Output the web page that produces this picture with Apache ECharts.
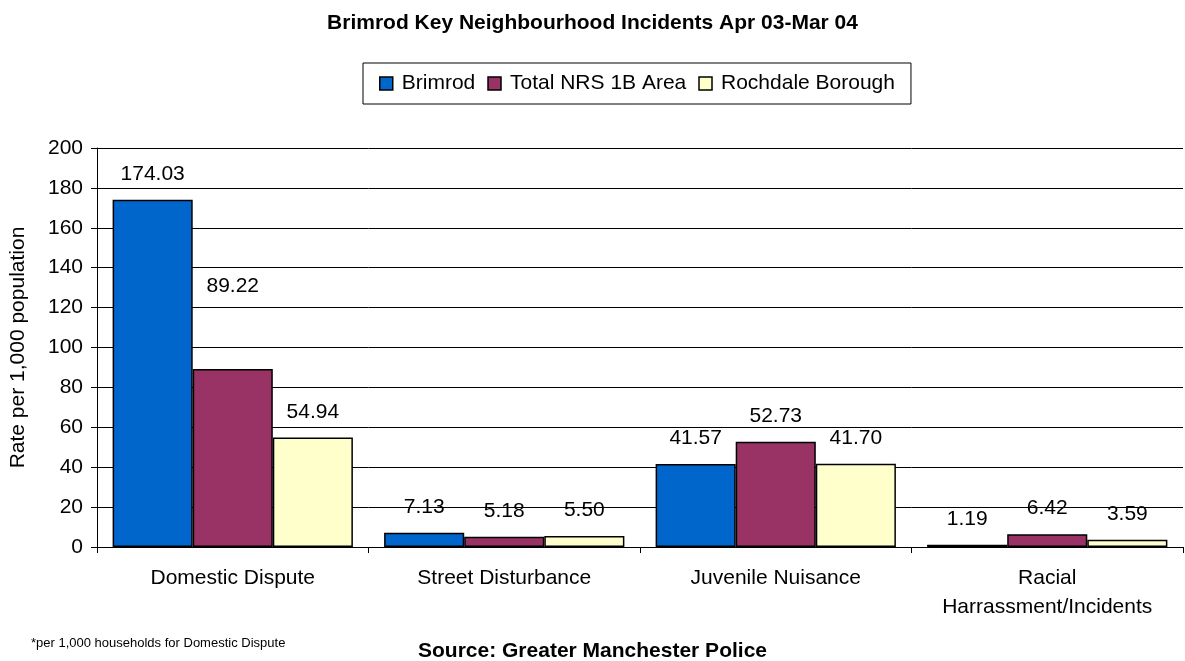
<!DOCTYPE html>
<html>
<head>
<meta charset="utf-8">
<script src="https://cdn.jsdelivr.net/npm/echarts@6/dist/echarts.min.js"></script>
<style>html,body{margin:0;padding:0;background:#fff}#c{width:1185px;height:661px}</style>
</head>
<body>
<div id="c"></div>
<script>
const categories = ['Domestic Dispute', 'Street Disturbance', 'Juvenile Nuisance', 'Racial\nHarrassment/Incidents'];
const seriesNames = ['Brimrod', 'Total NRS 1B Area', 'Rochdale Borough'];
const brimrod = [174.03, 7.13, 41.57, 1.19];
const totalNRS = [89.22, 5.18, 52.73, 6.42];
const rochdale = [54.94, 5.50, 41.70, 3.59];
const yTicks = [0, 20, 40, 60, 80, 100, 120, 140, 160, 180, 200];

const colors = ['#0066CC', '#993366', '#FFFFCC'];
const font = 'Liberation Sans, Arial, sans-serif';
const FS = 21;
// manual label lift for one label (as in the original)
const labelLift = { '1-0': -57 };

function mk(name, vals, si) {
  return {
    name: name, type: 'bar', barGap: '0%', barCategoryGap: '11.5%',
    itemStyle: { color: colors[si], borderColor: '#000', borderWidth: 1.5 },
    label: { show: true, position: 'top', distance: 15, fontSize: FS, color: '#000', fontFamily: font,
      formatter: p => p.value.toFixed(2) },
    data: vals.map((v, i) => {
      const k = si + '-' + i;
      return labelLift[k] ? { value: v, label: { offset: [0, labelLift[k]] } } : v;
    })
  };
}

const chart = echarts.init(document.getElementById('c'));
chart.setOption({
  animation: false,
  textStyle: { fontFamily: font },
  title: [
    { text: 'Brimrod Key Neighbourhood Incidents Apr 03-Mar 04', left: 'center', top: 8,
      textStyle: { fontSize: 21, fontWeight: 'bold', color: '#000', fontFamily: font } },
    { text: 'Source: Greater Manchester Police', left: 'center', top: 636,
      textStyle: { fontSize: 21, fontWeight: 'bold', color: '#000', fontFamily: font } },
    { text: '*per 1,000 households for Domestic Dispute', left: 26, top: 632,
      textStyle: { fontSize: 13, fontWeight: 'normal', color: '#000', fontFamily: font } }
  ],
  legend: {
    data: seriesNames, left: 363, top: 63, orient: 'horizontal',
    borderColor: '#000', borderWidth: 1, padding: [10, 16, 10, 16], itemGap: 12,
    itemWidth: 13, itemHeight: 13, icon: 'rect',
    itemStyle: { borderColor: '#000', borderWidth: 1.5 },
    textStyle: { fontSize: FS, color: '#000', fontFamily: font, padding: [0, 0, 0, 4] }
  },
  grid: { left: 97, right: 2, top: 148, bottom: 114, containLabel: false },
  xAxis: {
    type: 'category', data: categories,
    axisLine: { lineStyle: { color: '#000', width: 1 } },
    axisTick: { show: true, interval: 0, length: 6, lineStyle: { color: '#000' } },
    axisLabel: { interval: 0, fontSize: FS, color: '#000', margin: 17, lineHeight: 29, fontFamily: font }
  },
  yAxis: {
    type: 'value', min: yTicks[0], max: yTicks[yTicks.length - 1], interval: 20,
    name: 'Rate per 1,000 population', nameLocation: 'middle', nameGap: 68,
    nameTextStyle: { fontSize: FS, color: '#000', fontFamily: font },
    axisLine: { show: true, lineStyle: { color: '#000' } },
    axisTick: { show: true, length: 6, lineStyle: { color: '#000' } },
    axisLabel: { fontSize: FS, color: '#000', margin: 14, fontFamily: font },
    splitLine: { show: true, lineStyle: { color: '#000', width: 1 } }
  },
  series: [mk(seriesNames[0], brimrod, 0), mk(seriesNames[1], totalNRS, 1), mk(seriesNames[2], rochdale, 2)]
});
</script>
</body>
</html>
